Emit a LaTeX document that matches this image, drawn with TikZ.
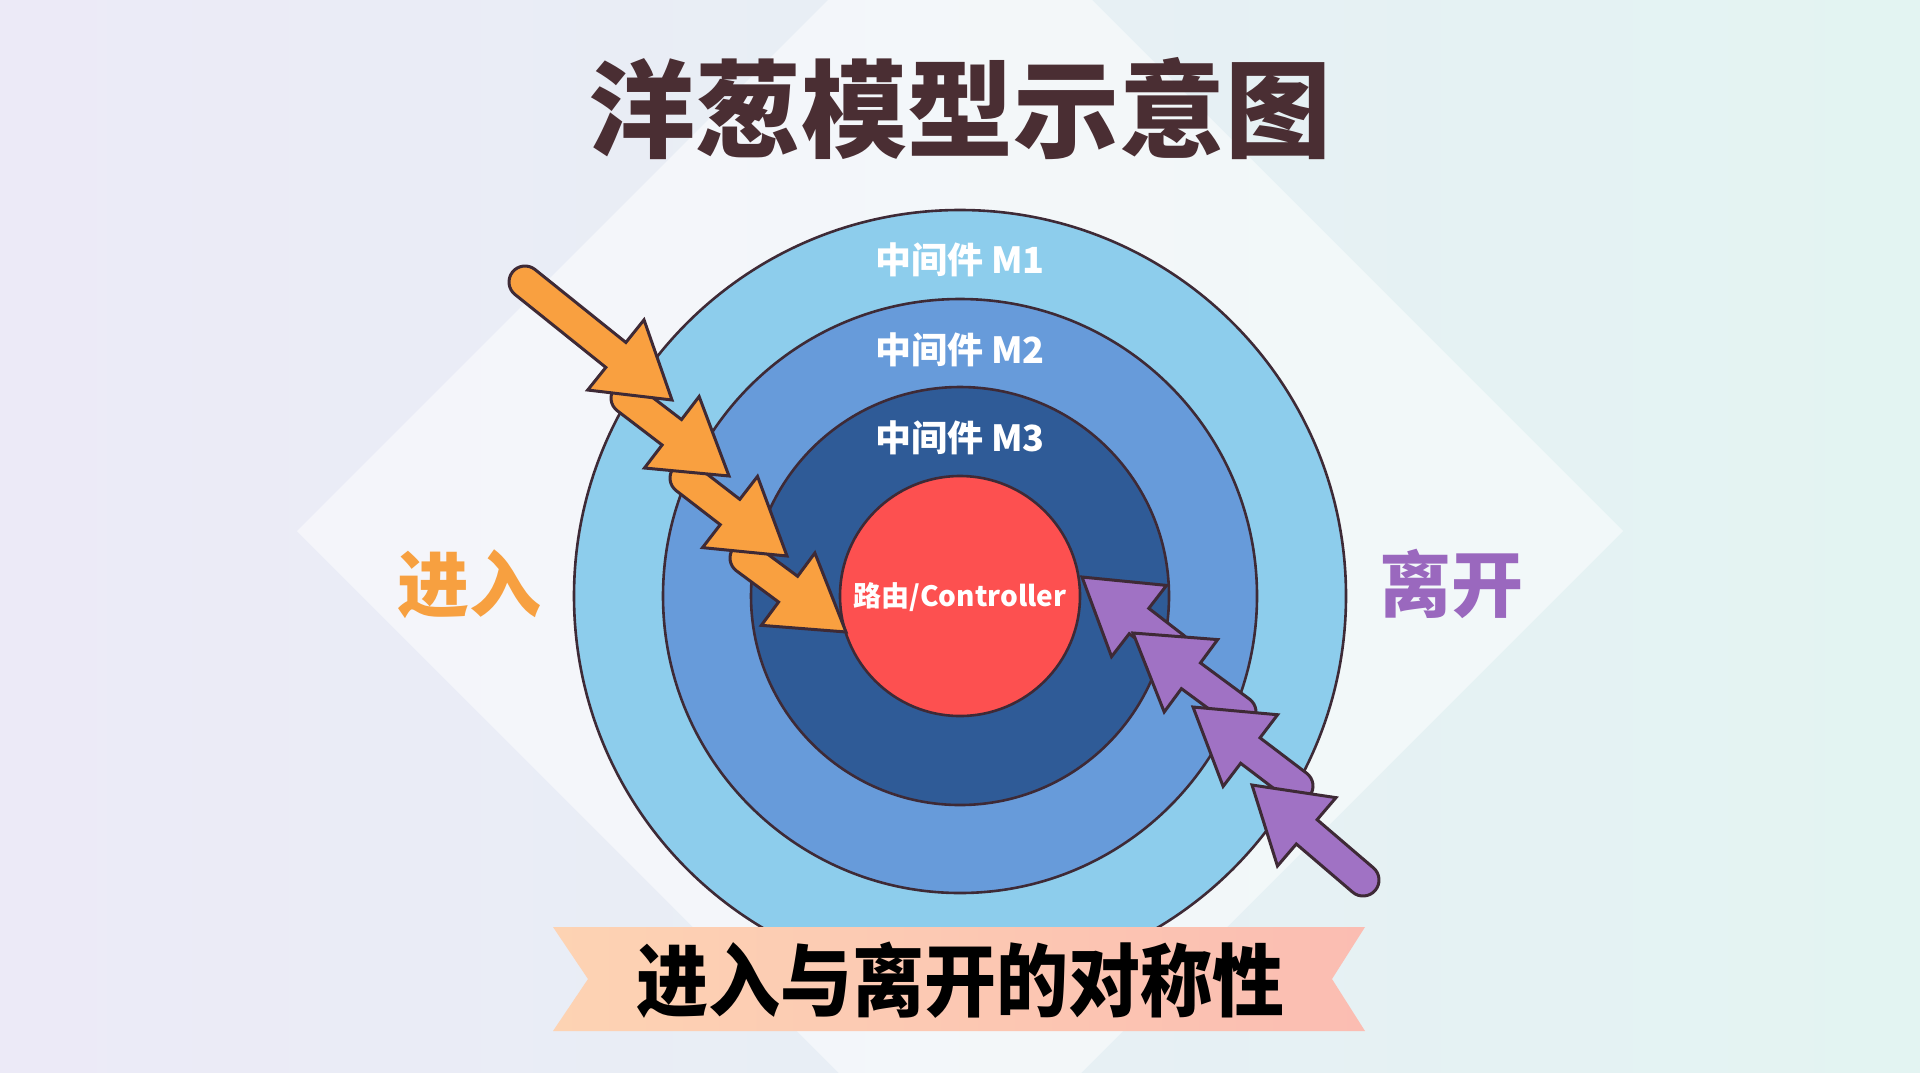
\documentclass[tikz,border=0pt]{standalone}
\usepackage{fontspec}
\newfontfamily\cjk{Noto Sans CJK SC}
\usetikzlibrary{calc}
\definecolor{bgL}{HTML}{ECEAF7}
\definecolor{bgR}{HTML}{E3F4F2}
\definecolor{ringA}{HTML}{8DCDEC}
\definecolor{ringB}{HTML}{679BDA}
\definecolor{ringC}{HTML}{2F5B97}
\definecolor{core}{HTML}{FD5050}
\definecolor{outl}{HTML}{3E2A36}
\definecolor{orA}{HTML}{F9A040}
\definecolor{puA}{HTML}{A072C4}
\definecolor{titleC}{HTML}{4A2E33}
\definecolor{orT}{HTML}{F7A040}
\definecolor{puT}{HTML}{9A68BE}
\definecolor{banL}{HTML}{FDD3B3}
\definecolor{banR}{HTML}{FBBDB2}
\tikzset{
  ring/.style={circle, draw=outl, line width=1.3pt, inner sep=0pt},
  arrowshape/.style={draw=outl, line width=1.5pt, line join=miter},
  lbl/.style={text=white, font=\cjk\bfseries\fontsize{18}{18}\selectfont, inner sep=0pt},
}
\newcommand\fatarrow[5]{%
  \pgfmathsetmacro\faang{atan2(-((#4)-(#2)),(#3)-(#1))}%
  \pgfmathsetmacro\falen{veclen((#3)-(#1),(#4)-(#2))}%
  \begin{scope}[shift={(#1,#2)},rotate=\faang]
    \filldraw[arrowshape, fill=#5] (\falen,0) -- (\falen-72,-45) -- (\falen-72,-16) -- (0,-16)
      arc[start angle=90,end angle=270,radius=8pt] -- (\falen-72,16) -- (\falen-72,45) -- cycle;
  \end{scope}}
\begin{document}
\begin{tikzpicture}[x=0.5pt,y=-0.5pt]
\useasboundingbox (0,0) rectangle (1920,1072);
% background
\shade[left color=bgL, right color=bgR] (0,0) rectangle (1920,1072);
\fill[white, opacity=0.5] (960,-132) -- (1623,531) -- (960,1194) -- (297,531) -- cycle;
% title
\node[text=titleC, font=\cjk\bfseries\fontsize{53}{53}\selectfont, inner sep=0pt] (title) at (960,109) {洋葱模型示意图};
% rings
\node[ring, fill=ringA, minimum size=386pt] (m1) at (960,596) {};
\node[ring, fill=ringB, minimum size=297pt] (m2) at (960,596) {};
\node[ring, fill=ringC, minimum size=209pt] (m3) at (960,596) {};
\node[ring, fill=core, minimum size=120pt] (ctrl) at (960,596) {};
\node[lbl] (l1) at (960,260) {中间件 M1};
\node[lbl] (l2) at (960,350) {中间件 M2};
\node[lbl] (l3) at (960,438) {中间件 M3};
\node[text=white, font=\cjk\bfseries\fontsize{14}{14}\selectfont, inner sep=0pt] (lc) at (960,597) {路由/Controller};
% side labels
\node[text=orT, font=\cjk\bfseries\fontsize{36}{36}\selectfont, inner sep=0pt] (in) at (469,584) {进入};
\node[text=puT, font=\cjk\bfseries\fontsize{36}{36}\selectfont, inner sep=0pt] (out) at (1451,584) {离开};
% orange arrows (downstream first)
\fatarrow{746}{558}{846}{632}{orA}
\fatarrow{686}{478}{787}{556}{orA}
\fatarrow{627}{398}{729}{476}{orA}
\fatarrow{525}{282}{672}{400}{orA}
% purple arrows (downstream first)
\fatarrow{1174}{648}{1082}{577}{puA}
\fatarrow{1240}{712}{1133}{633}{puA}
\fatarrow{1297}{786}{1193}{707}{puA}
\fatarrow{1363}{880}{1252}{785}{puA}
% banner
\shade[left color=banL, right color=banR] (553,927) -- (1365,927) -- (1332,979) -- (1365,1031) -- (553,1031) -- (588,979) -- cycle;
\node[text=black, font=\cjk\bfseries\fontsize{36}{36}\selectfont, inner sep=0pt] (ban) at (960,980) {\scalebox{1}[1.1]{进入与离开的对称性}};
\end{tikzpicture}
\end{document}
